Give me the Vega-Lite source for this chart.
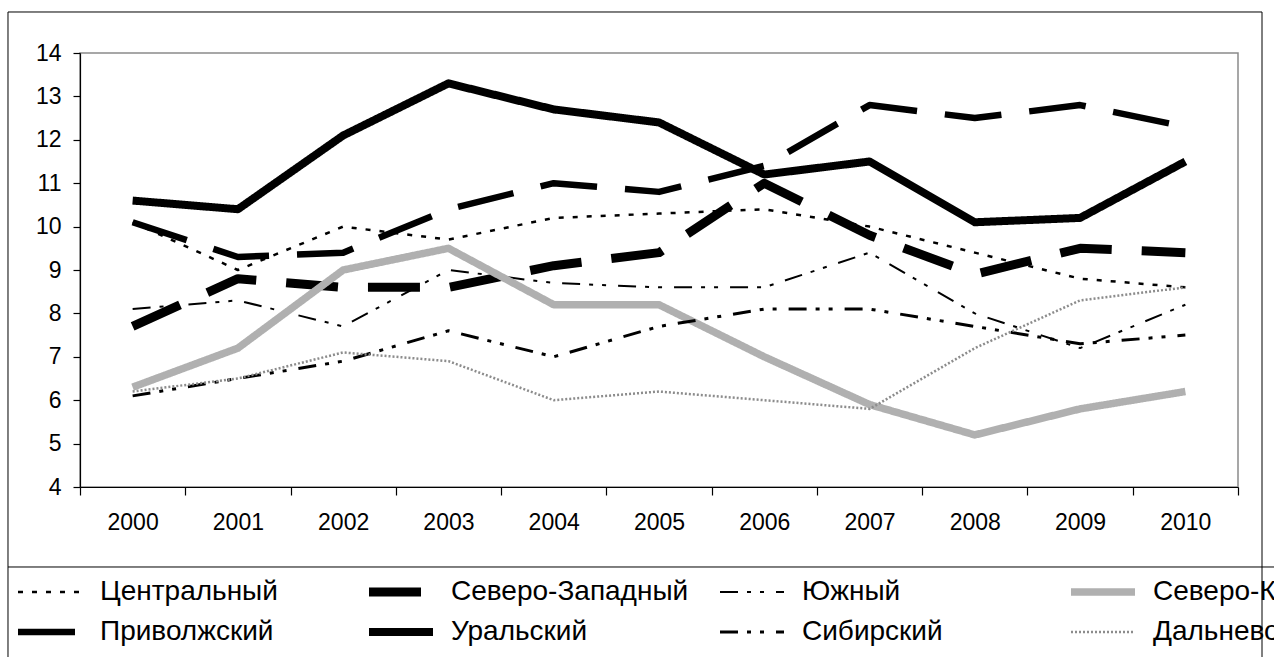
{
  "$schema": "https://vega.github.io/schema/vega-lite/v6.json",
  "width": 1158,
  "height": 434,
  "autosize": {"type": "none"},
  "padding": {"left": 80, "top": 53, "right": 36, "bottom": 170},
  "background": "#ffffff",
  "config": {
    "font": "Liberation Sans",
    "view": {"stroke": "#8a8a8a", "strokeWidth": 1.5}
  },
  "layer": [
    {
      "data": {
        "values": [
          {"region": "Центральный", "year": 2000, "value": 10.1},
          {"region": "Центральный", "year": 2001, "value": 9.0},
          {"region": "Центральный", "year": 2002, "value": 10.0},
          {"region": "Центральный", "year": 2003, "value": 9.7},
          {"region": "Центральный", "year": 2004, "value": 10.2},
          {"region": "Центральный", "year": 2005, "value": 10.3},
          {"region": "Центральный", "year": 2006, "value": 10.4},
          {"region": "Центральный", "year": 2007, "value": 10.0},
          {"region": "Центральный", "year": 2008, "value": 9.4},
          {"region": "Центральный", "year": 2009, "value": 8.8},
          {"region": "Центральный", "year": 2010, "value": 8.6},
          {"region": "Северо-Западный", "year": 2000, "value": 7.7},
          {"region": "Северо-Западный", "year": 2001, "value": 8.8},
          {"region": "Северо-Западный", "year": 2002, "value": 8.6},
          {"region": "Северо-Западный", "year": 2003, "value": 8.6},
          {"region": "Северо-Западный", "year": 2004, "value": 9.1},
          {"region": "Северо-Западный", "year": 2005, "value": 9.4},
          {"region": "Северо-Западный", "year": 2006, "value": 11.0},
          {"region": "Северо-Западный", "year": 2007, "value": 9.8},
          {"region": "Северо-Западный", "year": 2008, "value": 8.9},
          {"region": "Северо-Западный", "year": 2009, "value": 9.5},
          {"region": "Северо-Западный", "year": 2010, "value": 9.4},
          {"region": "Южный", "year": 2000, "value": 8.1},
          {"region": "Южный", "year": 2001, "value": 8.3},
          {"region": "Южный", "year": 2002, "value": 7.7},
          {"region": "Южный", "year": 2003, "value": 9.0},
          {"region": "Южный", "year": 2004, "value": 8.7},
          {"region": "Южный", "year": 2005, "value": 8.6},
          {"region": "Южный", "year": 2006, "value": 8.6},
          {"region": "Южный", "year": 2007, "value": 9.4},
          {"region": "Южный", "year": 2008, "value": 8.0},
          {"region": "Южный", "year": 2009, "value": 7.2},
          {"region": "Южный", "year": 2010, "value": 8.2},
          {"region": "Северо-Кавказский", "year": 2000, "value": 6.3},
          {"region": "Северо-Кавказский", "year": 2001, "value": 7.2},
          {"region": "Северо-Кавказский", "year": 2002, "value": 9.0},
          {"region": "Северо-Кавказский", "year": 2003, "value": 9.5},
          {"region": "Северо-Кавказский", "year": 2004, "value": 8.2},
          {"region": "Северо-Кавказский", "year": 2005, "value": 8.2},
          {"region": "Северо-Кавказский", "year": 2006, "value": 7.0},
          {"region": "Северо-Кавказский", "year": 2007, "value": 5.9},
          {"region": "Северо-Кавказский", "year": 2008, "value": 5.2},
          {"region": "Северо-Кавказский", "year": 2009, "value": 5.8},
          {"region": "Северо-Кавказский", "year": 2010, "value": 6.2},
          {"region": "Приволжский", "year": 2000, "value": 10.1},
          {"region": "Приволжский", "year": 2001, "value": 9.3},
          {"region": "Приволжский", "year": 2002, "value": 9.4},
          {"region": "Приволжский", "year": 2003, "value": 10.4},
          {"region": "Приволжский", "year": 2004, "value": 11.0},
          {"region": "Приволжский", "year": 2005, "value": 10.8},
          {"region": "Приволжский", "year": 2006, "value": 11.4},
          {"region": "Приволжский", "year": 2007, "value": 12.8},
          {"region": "Приволжский", "year": 2008, "value": 12.5},
          {"region": "Приволжский", "year": 2009, "value": 12.8},
          {"region": "Приволжский", "year": 2010, "value": 12.3},
          {"region": "Уральский", "year": 2000, "value": 10.6},
          {"region": "Уральский", "year": 2001, "value": 10.4},
          {"region": "Уральский", "year": 2002, "value": 12.1},
          {"region": "Уральский", "year": 2003, "value": 13.3},
          {"region": "Уральский", "year": 2004, "value": 12.7},
          {"region": "Уральский", "year": 2005, "value": 12.4},
          {"region": "Уральский", "year": 2006, "value": 11.2},
          {"region": "Уральский", "year": 2007, "value": 11.5},
          {"region": "Уральский", "year": 2008, "value": 10.1},
          {"region": "Уральский", "year": 2009, "value": 10.2},
          {"region": "Уральский", "year": 2010, "value": 11.5},
          {"region": "Сибирский", "year": 2000, "value": 6.1},
          {"region": "Сибирский", "year": 2001, "value": 6.5},
          {"region": "Сибирский", "year": 2002, "value": 6.9},
          {"region": "Сибирский", "year": 2003, "value": 7.6},
          {"region": "Сибирский", "year": 2004, "value": 7.0},
          {"region": "Сибирский", "year": 2005, "value": 7.7},
          {"region": "Сибирский", "year": 2006, "value": 8.1},
          {"region": "Сибирский", "year": 2007, "value": 8.1},
          {"region": "Сибирский", "year": 2008, "value": 7.7},
          {"region": "Сибирский", "year": 2009, "value": 7.3},
          {"region": "Сибирский", "year": 2010, "value": 7.5},
          {"region": "Дальневосточный", "year": 2000, "value": 6.2},
          {"region": "Дальневосточный", "year": 2001, "value": 6.5},
          {"region": "Дальневосточный", "year": 2002, "value": 7.1},
          {"region": "Дальневосточный", "year": 2003, "value": 6.9},
          {"region": "Дальневосточный", "year": 2004, "value": 6.0},
          {"region": "Дальневосточный", "year": 2005, "value": 6.2},
          {"region": "Дальневосточный", "year": 2006, "value": 6.0},
          {"region": "Дальневосточный", "year": 2007, "value": 5.8},
          {"region": "Дальневосточный", "year": 2008, "value": 7.2},
          {"region": "Дальневосточный", "year": 2009, "value": 8.3},
          {"region": "Дальневосточный", "year": 2010, "value": 8.6}
        ]
      },
      "mark": {"type": "line", "strokeCap": "butt", "strokeJoin": "round"},
      "encoding": {
        "x": {
          "field": "year", "type": "quantitative",
          "scale": {"domain": [1999.5, 2010.5], "nice": false, "zero": false},
          "axis": {
            "values": [1999.5, 2000.5, 2001.5, 2002.5, 2003.5, 2004.5, 2005.5, 2006.5, 2007.5, 2008.5, 2009.5, 2010.5],
            "labelExpr": "datum.value > 2010 ? '' : format(datum.value + 0.5, 'd')",
            "labelOffset": 52.6,
            "domain": true,
            "domainColor": "#000000",
            "domainWidth": 1.2,
            "grid": false,
            "ticks": true,
            "tickSize": 8,
            "tickColor": "#000000",
            "tickWidth": 1.2,
            "labelFontSize": 23,
            "labelColor": "#000000",
            "labelPadding": 16,
            "labelFlush": false,
            "labelOverlap": false,
            "title": null
          }
        },
        "y": {
          "field": "value", "type": "quantitative",
          "scale": {"domain": [4, 14], "nice": false, "zero": false},
          "axis": {
            "values": [4, 5, 6, 7, 8, 9, 10, 11, 12, 13, 14],
            "domain": true,
            "domainColor": "#000000",
            "domainWidth": 1.2,
            "grid": false,
            "tickSize": 7,
            "tickColor": "#000000",
            "tickWidth": 1.2,
            "labelFontSize": 23,
            "labelColor": "#000000",
            "labelPadding": 12,
            "labelFlush": false,
            "title": null
          }
        },
        "color": {
          "field": "region", "type": "nominal",
          "scale": {
            "domain": ["Центральный", "Северо-Западный", "Южный", "Северо-Кавказский", "Приволжский", "Уральский", "Сибирский", "Дальневосточный"],
            "range": ["#000000", "#000000", "#000000", "#b0b0b0", "#000000", "#000000", "#000000", "#8c8c8c"]
          },
          "legend": {
            "orient": "none",
            "legendX": -66.5,
            "legendY": 525,
            "columns": 4,
            "direction": "horizontal",
            "title": null,
            "symbolType": "stroke",
            "symbolSize": 4096,
            "clipHeight": 28,
            "labelFontSize": 28,
            "labelColor": "#000000",
            "labelLimit": 263,
            "labelOffset": 13.5,
            "columnPadding": 13,
            "rowPadding": 12,
            "gridAlign": "all",
            "padding": 0
          }
        },
        "strokeDash": {
          "field": "region", "type": "nominal",
          "scale": {
            "domain": ["Центральный", "Северо-Западный", "Южный", "Северо-Кавказский", "Приволжский", "Уральский", "Сибирский", "Дальневосточный"],
            "range": [[5, 9], [52, 30], [18, 9, 4, 9, 4, 12], [1, 0], [57, 28], [1, 0], [18, 9, 4, 9, 4, 12], [2, 2]]
          },
          "legend": {
            "orient": "none",
            "legendX": -66.5,
            "legendY": 525,
            "columns": 4,
            "direction": "horizontal",
            "title": null,
            "symbolType": "stroke",
            "symbolSize": 4096,
            "clipHeight": 28,
            "labelFontSize": 28,
            "labelColor": "#000000",
            "labelLimit": 263,
            "labelOffset": 13.5,
            "columnPadding": 13,
            "rowPadding": 12,
            "gridAlign": "all",
            "padding": 0
          }
        },
        "strokeWidth": {
          "field": "region", "type": "nominal",
          "scale": {
            "type": "ordinal",
            "domain": ["Центральный", "Северо-Западный", "Южный", "Северо-Кавказский", "Приволжский", "Уральский", "Сибирский", "Дальневосточный"],
            "range": [2.5, 9, 2, 7.5, 6.5, 8, 3, 2.5]
          },
          "legend": {
            "orient": "none",
            "legendX": -66.5,
            "legendY": 525,
            "columns": 4,
            "direction": "horizontal",
            "title": null,
            "symbolType": "stroke",
            "symbolSize": 4096,
            "clipHeight": 28,
            "labelFontSize": 28,
            "labelColor": "#000000",
            "labelLimit": 263,
            "labelOffset": 13.5,
            "columnPadding": 13,
            "rowPadding": 12,
            "gridAlign": "all",
            "padding": 0
          }
        }
      }
    },
    {
      "data": {"values": [{}]},
      "mark": {"type": "rule", "color": "#000000", "strokeWidth": 1},
      "encoding": {
        "x": {"datum": 1998.816, "type": "quantitative", "scale": {"domain": [1999.5, 2010.5], "nice": false, "zero": false}},
        "y": {"datum": 14.945, "type": "quantitative", "scale": {"domain": [4, 14], "nice": false, "zero": false}},
        "y2": {"datum": 0}
      }
    },
    {
      "data": {"values": [{}]},
      "mark": {"type": "rule", "color": "#000000", "strokeWidth": 1},
      "encoding": {
        "x": {"datum": 2010.728, "type": "quantitative", "scale": {"domain": [1999.5, 2010.5], "nice": false, "zero": false}},
        "y": {"datum": 14.945, "type": "quantitative", "scale": {"domain": [4, 14], "nice": false, "zero": false}},
        "y2": {"datum": 0}
      }
    },
    {
      "data": {"values": [{}]},
      "mark": {"type": "rule", "color": "#000000", "strokeWidth": 1},
      "encoding": {
        "x": {"datum": 1998.816, "type": "quantitative", "scale": {"domain": [1999.5, 2010.5], "nice": false, "zero": false}},
        "x2": {"datum": 2010.728},
        "y": {"datum": 14.945, "type": "quantitative", "scale": {"domain": [4, 14], "nice": false, "zero": false}}
      }
    },
    {
      "data": {"values": [{}]},
      "mark": {"type": "rule", "color": "#000000", "strokeWidth": 1},
      "encoding": {
        "x": {"datum": 1998.816, "type": "quantitative", "scale": {"domain": [1999.5, 2010.5], "nice": false, "zero": false}},
        "x2": {"datum": 2010.85},
        "y": {"datum": 2.157, "type": "quantitative", "scale": {"domain": [4, 14], "nice": false, "zero": false}}
      }
    }
  ]
}
